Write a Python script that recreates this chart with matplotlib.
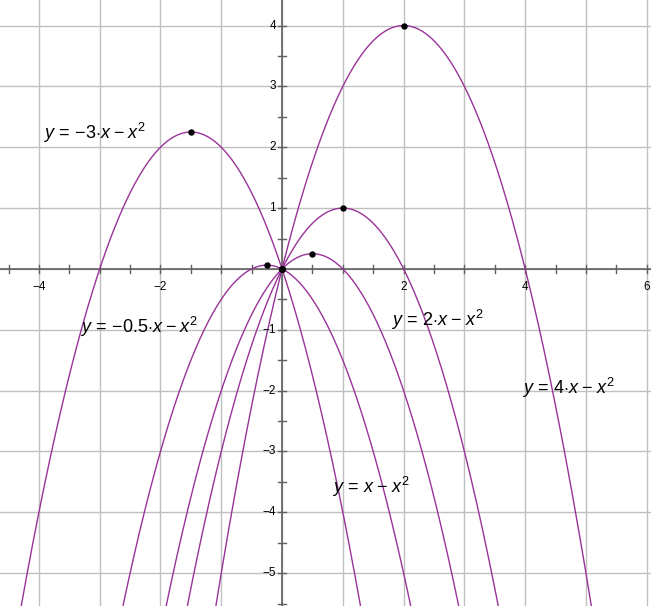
import matplotlib.pyplot as plt
import numpy as np

plt.rcParams['font.family'] = ['Liberation Sans', 'DejaVu Sans']
plt.rcParams['mathtext.fontset'] = 'custom'
plt.rcParams['mathtext.rm'] = 'Liberation Sans'
plt.rcParams['mathtext.it'] = 'Liberation Sans:italic'

# y = a*x - x^2 for each coefficient a
coefs = [-3, -0.5, 1, 2, 4]
labels = [r'$y\,=\,{-}3{\cdot}x\;{-}\;x^2$', r'$y\,=\,{-}0.5{\cdot}x\;{-}\;x^2$',
          r'$y\,=\,x\;{-}\;x^2$', r'$y\,=\,2{\cdot}x\;{-}\;x^2$', r'$y\,=\,4{\cdot}x\;{-}\;x^2$']
label_x = [-3.93, -3.32, 0.82, 1.79, 3.95]
label_y = [2.24, -0.95, -3.59, -0.84, -1.96]

xmin, xmax = -4.64, 6.07
ymin, ymax = -5.54, 4.42

fig = plt.figure(figsize=(6.51, 6.06), dpi=100)
ax = fig.add_axes([0, 0, 1, 1])
ax.set_xlim(xmin, xmax)
ax.set_ylim(ymin, ymax)
ax.axis('off')

# grid
for gx in range(-4, 7):
    ax.axvline(gx, color='#c0c0c0', lw=1, zorder=0)
for gy in range(-5, 5):
    ax.axhline(gy, color='#c0c0c0', lw=1, zorder=0)

# axes
ax.axhline(0, color='#606060', lw=1.2, zorder=1)
ax.axvline(0, color='#606060', lw=1.2, zorder=1)
tl = 0.07
for t in np.arange(-4.5, 6.01, 0.5):
    if t != 0:
        ax.plot([t, t], [-tl, tl], color='#606060', lw=1, zorder=1)
for t in np.arange(-5.5, 4.41, 0.5):
    if t != 0:
        ax.plot([-tl, tl], [t, t], color='#606060', lw=1, zorder=1)
for t in [-4, -2, 2, 4, 6]:
    ax.text(t, -0.2, '\u2212%d' % -t if t < 0 else str(t), ha='center', va='top', fontsize=8.5)
for t in range(-5, 5):
    if t != 0:
        ax.text(-0.1, t, '\u2212%d' % -t if t < 0 else str(t), ha='right', va='center', fontsize=8.5)

# curves
x = np.linspace(xmin, xmax, 800)
for a in coefs:
    ax.plot(x, a * x - x ** 2, color='#993399', lw=1, zorder=2)
    ax.plot(a / 2, a * a / 4, 'o', color='black', ms=3.6, zorder=3)
ax.plot(0, 0, 'o', color='black', ms=4.2, zorder=3)

for lab, lx, ly in zip(labels, label_x, label_y):
    ax.text(lx, ly, lab, ha='left', va='center', fontsize=13, zorder=4)

fig.savefig('out.png', dpi=100)
